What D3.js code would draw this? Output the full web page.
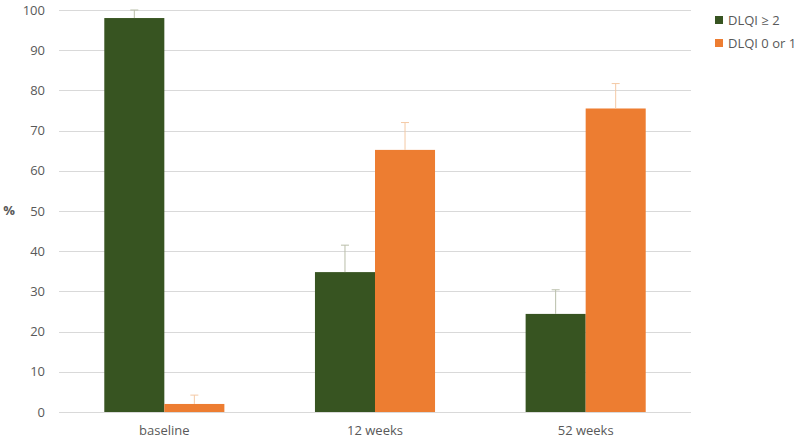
<html>
<head>
<script src="https://cdnjs.cloudflare.com/ajax/libs/d3/7.8.5/d3.min.js"></script>
<style>
  body { margin: 0; background: #fff; }
  text { font-family: "Open Sans", "Liberation Sans", sans-serif; fill: #595959; }
</style>
</head>
<body>
<div class="chart"></div>
<script>
var categories = ["baseline", "12 weeks", "52 weeks"];
var seriesNames = ["DLQI \u2265 2", "DLQI 0 or 1"];
var dlqiHigh = [98, 34.8, 24.4];
var dlqiHighErr = [2, 6.7, 6.0];
var dlqiLow = [2, 65.2, 75.5];
var dlqiLowErr = [2.2, 6.8, 6.2];
var yTicks = [0, 10, 20, 30, 40, 50, 60, 70, 80, 90, 100];

var colors = ["#375421", "#ed7d31"];
var errColors = ["#b9bea9", "#f4c9a5"];

var width = 797, height = 439;
var svg = d3.select(".chart").append("svg")
  .attr("width", width).attr("height", height);

var x = d3.scaleBand().domain(categories).range([59, 691]).paddingInner(0.43).paddingOuter(0.215);
var xs = d3.scaleBand().domain([0, 1]).range([0, x.bandwidth()]);
var y = d3.scaleLinear().domain([0, 100]).range([412, 10]);

// gridlines
svg.append("g").selectAll("line").data(yTicks).enter().append("line")
  .attr("x1", 59).attr("x2", 691)
  .attr("y1", function(d){ return Math.round(y(d)) + 0.5; })
  .attr("y2", function(d){ return Math.round(y(d)) + 0.5; })
  .style("stroke", "#d9d9d9").style("stroke-width", 1);

// y axis labels
var yAxis = d3.axisLeft(y).tickValues(yTicks).tickSize(0).tickPadding(14);
var ya = svg.append("g").attr("transform", "translate(59,0)").call(yAxis);
ya.select(".domain").remove();
ya.selectAll("text").style("font-size", "13px").style("fill", "#595959")
  .style("font-family", "'Open Sans', sans-serif");

svg.append("text").attr("x", 9).attr("y", 215).attr("text-anchor", "middle")
  .style("font-size", "13px").style("font-weight", "bold").text("%");

// x axis labels
var xAxis = d3.axisBottom(x).tickSize(0).tickPadding(14);
var xa = svg.append("g").attr("transform", "translate(0,412)").call(xAxis);
xa.select(".domain").remove();
xa.selectAll("text").style("font-size", "13px").style("fill", "#595959")
  .style("font-family", "'Open Sans', sans-serif");

var series = [
  { vals: dlqiHigh, errs: dlqiHighErr },
  { vals: dlqiLow, errs: dlqiLowErr }
];

series.forEach(function(s, k){
  var g = svg.append("g");
  var rows = categories.map(function(c, i){ return { c: c, v: s.vals[i], e: s.errs[i] }; });
  g.selectAll("rect").data(rows).enter().append("rect")
    .attr("x", function(d){ return x(d.c) + xs(k); })
    .attr("width", xs.bandwidth())
    .attr("y", function(d){ return y(d.v); })
    .attr("height", function(d){ return y(0) - y(d.v); })
    .style("fill", colors[k]);
  // error bars
  g.selectAll("line.v").data(rows).enter().append("line")
    .attr("x1", function(d){ return x(d.c) + xs(k) + xs.bandwidth() / 2; })
    .attr("x2", function(d){ return x(d.c) + xs(k) + xs.bandwidth() / 2; })
    .attr("y1", function(d){ return y(d.v); })
    .attr("y2", function(d){ return y(d.v + d.e); })
    .style("stroke", errColors[k]).style("stroke-width", 1);
  g.selectAll("line.c").data(rows).enter().append("line")
    .attr("x1", function(d){ return x(d.c) + xs(k) + xs.bandwidth() / 2 - 4; })
    .attr("x2", function(d){ return x(d.c) + xs(k) + xs.bandwidth() / 2 + 4; })
    .attr("y1", function(d){ return y(d.v + d.e); })
    .attr("y2", function(d){ return y(d.v + d.e); })
    .style("stroke", errColors[k]).style("stroke-width", 1);
});

// legend
var leg = svg.append("g").selectAll("g").data(seriesNames).enter().append("g")
  .attr("transform", function(d, i){ return "translate(715," + (20 + i * 23) + ")"; });
leg.append("rect").attr("x", 0).attr("y", -4).attr("width", 8).attr("height", 8)
  .style("fill", function(d, i){ return colors[i]; });
leg.append("text").attr("x", 13).attr("y", 0).attr("dy", "0.35em")
  .style("font-size", "13px").text(function(d){ return d; });
</script>
</body>
</html>
